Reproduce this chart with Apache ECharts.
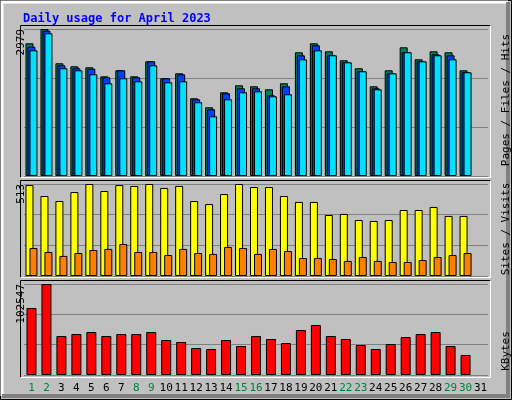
<!DOCTYPE html>
<html>
<head>
<meta charset="utf-8">
<script src="https://cdn.jsdelivr.net/npm/echarts@6/dist/echarts.min.js"></script>
<style>
  html, body { margin: 0; padding: 0; background: #c0c0c0; }
  #chart { width: 512px; height: 400px; }
</style>
</head>
<body>
<div id="chart"></div>
<script>
// day labels, weekends drawn green
const days = ['1','2','3','4','5','6','7','8','9','10','11','12','13','14','15','16','17','18','19','20','21','22','23','24','25','26','27','28','29','30','31']
const weekendDays = ['1','2','8','9','15','16','22','23','29','30']

// top panel
const hits = [2689,2979,2284,2223,2203,2020,2142,2020,2324,1980,2081,1575,1392,1696,1838,1818,1757,1879,2507,2689,2527,2345,2183,1818,2142,2608,2365,2527,2507,2142,null]
const files = [2620,2945,2243,2183,2174,2000,2142,2000,2324,1980,2061,1554,1352,1676,1777,1777,1635,1818,2446,2649,2446,2304,2122,1777,2081,2507,2324,2466,2446,2102,null]
const pages = [2547,2892,2183,2142,2061,1879,1980,1919,2243,1899,1919,1494,1210,1554,1696,1716,1615,1656,2365,2547,2446,2304,2122,1757,2081,2507,2324,2446,2365,2102,null]
const hitsMax = 2979

// middle panel
const visits = [507,446,418,468,513,474,507,502,513,491,502,418,401,457,513,496,496,446,413,413,340,346,312,307,312,368,368,385,335,335,null]
const sites = [156,134,112,128,145,151,178,134,134,117,151,128,123,162,156,123,151,139,100,100,95,84,106,84,78,78,89,106,117,128,null]
const visitsMax = 513

// bottom panel
const kbytes = [75500,102547,43950,46200,48450,43950,46200,46200,48450,39440,37190,30420,29300,39440,32680,43950,40570,36060,50710,56340,43950,40570,33800,29300,34930,42820,46200,48450,32680,22540,null]
const kbytesMax = 102547

const chart = echarts.init(document.getElementById('chart'))

const mono = 'DejaVu Sans Mono'
const gridX = {left: 24, width: 464}

function yAxis(gridIndex, max) {
  return {
    type: 'value', gridIndex, min: 0, max, interval: max / 3,
    axisLine: {show: false}, axisTick: {show: false},
    splitLine: {lineStyle: {color: '#808080', width: 1}},
    axisLabel: {
      formatter: v => (Math.round(v) === max ? String(max) : ''),
      rotate: 90, align: 'right', verticalAlign: 'middle', margin: 3,
      color: '#000', fontFamily: mono, fontSize: 11,
    },
  }
}

function xAxis(gridIndex, showLabels) {
  return {
    type: 'category', gridIndex, data: days,
    axisLine: {show: false}, axisTick: {show: false},
    axisLabel: showLabels ? {
      interval: 0, margin: 8, fontFamily: mono, fontSize: 11,
      formatter: v => (weekendDays.includes(v) ? '{w|' + v + '}' : '{n|' + v + '}'),
      rich: {w: {color: '#008040', fontFamily: mono, fontSize: 11}, n: {color: '#000', fontFamily: mono, fontSize: 11}},
    } : {show: false},
  }
}

function bar(name, data, color, idx, width, gap) {
  return {
    name, type: 'bar', data, xAxisIndex: idx, yAxisIndex: idx,
    barWidth: width, barGap: gap, animation: false,
    itemStyle: {color, borderColor: '#000', borderWidth: 1},
  }
}

// sunken frame around each panel: black top/left, white bottom/right
function frame(x1, y1, x2, y2) {
  return [
    {type: 'polyline', z: 100, shape: {points: [[x1, y2], [x1, y1], [x2, y1]]}, style: {stroke: '#000', lineWidth: 1, fill: null}},
    {type: 'polyline', z: 100, shape: {points: [[x2, y1], [x2, y2], [x1, y2]]}, style: {stroke: '#fff', lineWidth: 1, fill: null}},
  ]
}

function sideLabel(y, rich, text) {
  return {
    type: 'text', z: 100, x: 506, y, rotation: Math.PI / 2,
    style: {text, rich, fontFamily: mono, fontSize: 11, align: 'center', verticalAlign: 'middle'},
  }
}

chart.setOption({
  backgroundColor: '#c0c0c0',
  title: {
    text: 'Daily usage for April 2023', left: 18, top: 8,
    textStyle: {color: '#0000ff', fontFamily: mono, fontWeight: 'bold', fontSize: 12},
  },
  grid: [
    {...gridX, top: 29, height: 147},
    {...gridX, top: 184, height: 92},
    {...gridX, top: 284, height: 91},
  ],
  xAxis: [xAxis(0, false), xAxis(1, false), xAxis(2, true)],
  yAxis: [yAxis(0, hitsMax), yAxis(1, visitsMax), yAxis(2, kbytesMax)],
  series: [
    bar('Hits', hits, '#00805c', 0, 8, '-75%'),
    bar('Files', files, '#0040ff', 0, 8, '-75%'),
    bar('Pages', pages, '#00e0ff', 0, 8, '-75%'),
    bar('Visits', visits, '#ffff00', 1, 8, '-50%'),
    bar('Sites', sites, '#ff8000', 1, 8, '-50%'),
    bar('KBytes', kbytes, '#ff0000', 2, 10, '0%'),
  ],
  graphic: [
    {type: 'rect', z: 90, shape: {x: 0.5, y: 0.5, width: 511, height: 399}, style: {stroke: '#000', fill: null, lineWidth: 1}},
    {type: 'polyline', z: 90, shape: {points: [[2, 396], [2, 2], [508, 2]]}, style: {stroke: '#fff', lineWidth: 3, fill: null}},
    {type: 'polyline', z: 90, shape: {points: [[508, 2], [508, 396], [2, 396]]}, style: {stroke: '#808080', lineWidth: 4, fill: null}},
    ...frame(20.5, 25.5, 490.5, 177.5),
    ...frame(20.5, 180.5, 490.5, 277.5),
    ...frame(20.5, 280.5, 490.5, 377.5),
    sideLabel(100, {p: {color: '#00c0c0'}, s: {color: '#000'}, f: {color: '#008080'}, h: {color: '#008040'}},
      '{p|Pages}{s| / }{f|Files}{s| / }{h|Hits}'),
    sideLabel(229, {si: {color: '#ff8000'}, s: {color: '#000'}, v: {color: '#e0e000'}},
      '{si|Sites}{s| / }{v|Visits}'),
    sideLabel(351, {k: {color: '#ff0000'}}, '{k|KBytes}'),
  ],
})
</script>
</body>
</html>
